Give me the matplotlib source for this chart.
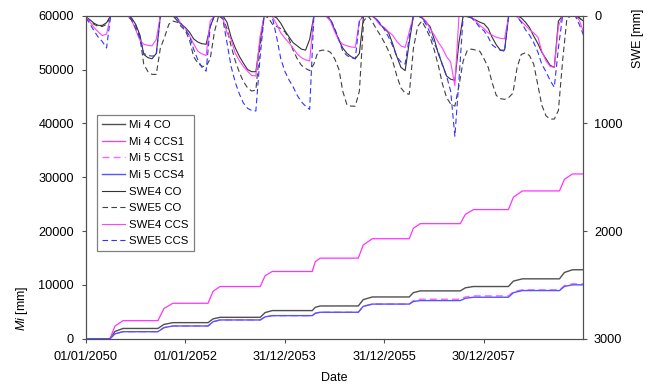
import matplotlib
matplotlib.use("Agg")
import matplotlib.pyplot as plt
import matplotlib.dates as mdates
import pandas as pd

plt.rcParams['font.family'] = ['Liberation Sans', 'DejaVu Sans']
plt.rcParams['mathtext.fontset'] = 'custom'
plt.rcParams['mathtext.it'] = 'Liberation Sans:italic'
plt.rcParams['mathtext.rm'] = 'Liberation Sans'

# cumulative Mi [mm], read at the start / middle / end of each yearly rise
mi_dates = ['2050-01-01', '2050-06-26', '2050-08-02', '2050-09-30',
            '2051-06-13', '2051-07-27', '2051-10-01',
            '2052-06-15', '2052-07-22', '2052-09-11',
            '2053-07-03', '2053-08-08', '2053-09-29',
            '2054-07-20', '2054-08-11', '2054-09-16',
            '2055-06-23', '2055-07-29', '2055-10-04',
            '2056-07-01', '2056-07-31', '2056-09-20',
            '2057-07-11', '2057-08-17', '2057-10-15',
            '2058-06-29', '2058-08-05', '2058-10-10',
            '2059-07-09', '2059-08-14', '2059-10-12', '2059-12-31']
mi4_co = [0, 0, 1350, 1900, 1900, 2650, 2980, 2980, 3680, 3970, 3970, 4850, 5220,
          5220, 5820, 6080, 6080, 7250, 7750, 7750, 8550, 8880, 8880, 9450, 9690,
          9690, 10700, 11120, 11120, 12300, 12800, 12800]
mi4_ccs1 = [0, 0, 2350, 3350, 3350, 5600, 6580, 6580, 8800, 9690, 9690, 11700, 12480,
            12480, 14300, 14960, 14960, 17400, 18570, 18570, 20500, 21370, 21370,
            23100, 23980, 23980, 26300, 27450, 27450, 29600, 30600, 30600]
mi5_ccs1 = [0, 0, 900, 1300, 1300, 2050, 2360, 2360, 3150, 3480, 3480, 4050, 4280,
            4280, 4720, 4910, 4910, 6000, 6430, 6430, 7050, 7330, 7330, 7750, 7950,
            7950, 8750, 9070, 9070, 9850, 10190, 10190]
mi5_ccs4 = [0, 0, 900, 1300, 1300, 2050, 2360, 2360, 3150, 3480, 3480, 4050, 4280,
            4280, 4720, 4910, 4910, 6000, 6430, 6430, 6900, 7080, 7080, 7500, 7700,
            7700, 8550, 8940, 8940, 9700, 10000, 10000]

# SWE [mm], first day of each month, Jan 2050 .. Jan 2060
swe_start = '2050-01-01'
swe4_co = [10, 40, 70, 90, 90, 65, 0, 0, 0, 0, 0, 20,
           80, 180, 360, 390, 400, 350, 0, 0, 0, 0, 45, 80,
           110, 155, 215, 245, 260, 265, 100, 0, 0, 0, 60, 200,
           300, 380, 440, 500, 520, 520, 250, 0, 0, 0, 20, 70,
           140, 200, 250, 280, 310, 320, 220, 0, 0, 0, 0, 40,
           130, 230, 300, 350, 380, 400, 350, 0, 0, 0, 30, 80,
           120, 160, 260, 380, 480, 510, 250, 0, 0, 20, 60, 100,
           220, 360, 450, 560, 590, 600, 250, 0, 10, 20, 40, 60,
           75, 120, 200, 270, 320, 320, 0, 0, 0, 20, 60, 110,
           190, 260, 340, 400, 460, 480, 50, 0, 0, 0, 0, 20,
           50]
swe5_co = [15, 50, 80, 100, 100, 80, 0, 0, 0, 0, 0, 30,
           90, 200, 450, 520, 545, 545, 300, 200, 80, 50, 60, 100,
           140, 230, 380, 440, 470, 470, 400, 150, 0, 20, 120, 280,
           420, 530, 610, 670, 700, 690, 300, 0, 20, 80, 100, 120,
           150, 220, 320, 400, 460, 490, 510, 450, 330, 320, 320, 340,
           400, 500, 700, 830, 840, 840, 700, 50, 0, 50, 120, 180,
           250, 330, 420, 560, 670, 720, 730, 300, 100, 50, 120, 200,
           320, 470, 630, 760, 820, 840, 650, 420, 320, 310, 320, 330,
           400, 480, 620, 740, 770, 777, 760, 720, 480, 360, 345, 370,
           450, 650, 830, 930, 960, 960, 880, 420, 30, 0, 0, 20,
           50]
swe4_ccs = [10, 60, 110, 150, 185, 170, 0, 0, 0, 0, 0, 40,
            130, 230, 265, 275, 280, 220, 0, 0, 0, 0, 20, 75,
            120, 190, 260, 330, 355, 370, 50, 0, 0, 20, 160, 220,
            350, 420, 470, 515, 555, 560, 200, 0, 0, 10, 80, 160,
            210, 255, 300, 355, 390, 410, 420, 0, 0, 0, 10, 50,
            150, 230, 265, 280, 290, 295, 50, 0, 0, 0, 40, 90,
            110, 150, 180, 240, 280, 295, 150, 0, 0, 10, 50, 120,
            180, 250, 300, 380, 430, 650, 0, 0, 0, 10, 50, 90,
            120, 160, 180, 200, 210, 215, 0, 0, 10, 50, 90, 130,
            160, 200, 330, 420, 470, 480, 100, 0, 0, 0, 0, 40,
            150]
swe5_ccs = [20, 80, 140, 200, 240, 300, 0, 0, 0, 0, 0, 40,
            120, 210, 350, 370, 375, 370, 0, 0, 0, 0, 20, 75,
            130, 190, 310, 410, 480, 515, 100, 0, 0, 30, 250, 470,
            620, 730, 810, 860, 880, 885, 400, 0, 0, 20, 200, 400,
            520, 600, 660, 740, 800, 840, 870, 0, 0, 0, 0, 30,
            120, 220, 330, 370, 390, 400, 50, 0, 0, 0, 30, 70,
            130, 200, 280, 380, 430, 450, 200, 0, 0, 20, 80, 160,
            260, 340, 460, 560, 700, 1120, 600, 0, 0, 20, 60, 110,
            140, 200, 270, 300, 320, 330, 0, 0, 10, 60, 130, 180,
            250, 340, 450, 520, 600, 665, 300, 0, 0, 0, 0, 80,
            180]

date_ticks = ['2050-01-01', '2052-01-01', '2053-12-31', '2055-12-31', '2057-12-30']

mi_x = pd.to_datetime(mi_dates)
swe_x = pd.date_range(swe_start, periods=len(swe4_co), freq='MS')

fig = plt.figure(figsize=(6.49, 3.85), dpi=100)
ax = fig.add_axes([0.1325, 0.1203, 0.7663, 0.8389])
ax2 = ax.twinx()

dash = (5, 3)
h1, = ax.plot(mi_x, mi4_co, color='#505050', lw=1.0, label='Mi 4 CO')
h2, = ax.plot(mi_x, mi4_ccs1, color='#ff33ff', lw=0.9, label='Mi 4 CCS1')
h3, = ax.plot(mi_x, mi5_ccs1, color='#ff66ff', lw=1.0, dashes=dash, label='Mi 5 CCS1')
h4, = ax.plot(mi_x, mi5_ccs4, color='#5555ff', lw=1.0, label='Mi 5 CCS4')

h5, = ax2.plot(swe_x, swe4_co, color='#333333', lw=0.8, label='SWE4 CO')
h6, = ax2.plot(swe_x, swe5_co, color='#404040', lw=0.8, dashes=dash, label='SWE5 CO')
h7, = ax2.plot(swe_x, swe4_ccs, color='#ff44ff', lw=0.8, label='SWE4 CCS')
h8, = ax2.plot(swe_x, swe5_ccs, color='#3333ff', lw=0.8, dashes=dash, label='SWE5 CCS')

ax.set_xlim(pd.Timestamp('2050-01-01'), pd.Timestamp('2059-12-31'))
ax.set_ylim(0, 60000)
ax.set_yticks(range(0, 60001, 10000))
ax2.set_ylim(3000, 0)
ax2.set_yticks([0, 1000, 2000, 3000])

ax.set_xticks(pd.to_datetime(date_ticks))
ax.xaxis.set_major_formatter(mdates.DateFormatter('%d/%m/%Y'))

for a in (ax, ax2):
    for s in a.spines.values():
        s.set_color('#505050')
        s.set_linewidth(0.8)
ax.tick_params(axis='both', direction='out', length=3.2, width=0.8, color='#505050',
               labelsize=9.2, pad=5.5)
ax.tick_params(axis='x', pad=6)
ax2.tick_params(axis='y', direction='out', length=3.2, width=0.8, color='#505050',
                labelsize=9.2, pad=4.5)

ax.set_xlabel('Date', fontsize=9)
ax.xaxis.set_label_coords(0.5, -0.102)
ax.set_ylabel(r'$\mathit{Mi}$ [mm]', fontsize=9)
ax.yaxis.set_label_coords(-0.113, 0.095)
ax2.set_ylabel('SWE [mm]', fontsize=9)
ax2.yaxis.set_label_coords(1.098, 0.93)

handles = [h1, h2, h3, h4, h5, h6, h7, h8]
leg = ax2.legend(handles=handles, loc='upper left', bbox_to_anchor=(0.022, 0.6926),
                 borderaxespad=0, fontsize=8.2, frameon=True, fancybox=False,
                 edgecolor='#808080', framealpha=1, handlelength=2.0,
                 handletextpad=0.4, labelspacing=0.58, borderpad=0.45)
leg.get_frame().set_linewidth(0.9)

fig.savefig('out.png', dpi=100)
